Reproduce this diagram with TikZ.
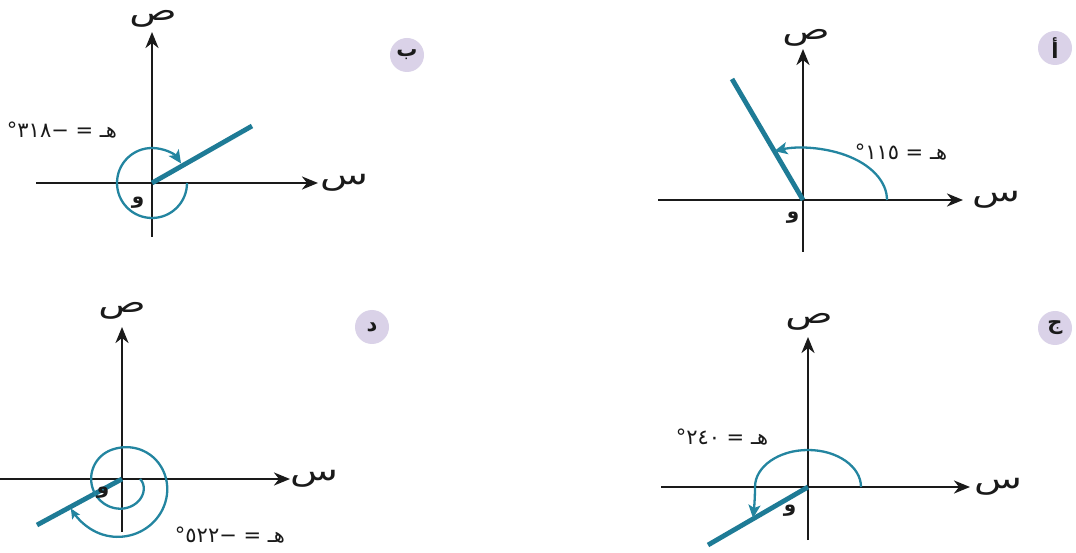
\documentclass[tikz,border=0pt]{standalone}
\usepackage{fontspec}
\usepackage{graphicx}
\newfontfamily\arabicfont[Script=Arabic]{DejaVu Sans}
\TeXXeTstate=1
\usetikzlibrary{arrows.meta}
\definecolor{tealline}{HTML}{1E7B96}
\definecolor{tealarc}{HTML}{2385A0}
\definecolor{badgefill}{HTML}{DAD2E8}
\definecolor{inkc}{HTML}{1A1A1A}
\tikzset{
  declare function={spt(\t)=min(max((\t-250)/230,0),1);
                    spr(\t)=31-13*exp(-\t/40)+28*(3*spt(\t)^2-2*spt(\t)^3);},
  axisline/.style={draw=inkc, line width=2.5pt, -{Stealth[length=16pt,width=13pt,inset=5pt]}},
  termline/.style={draw=tealline, line width=4.8pt},
  anglearc/.style={draw=tealarc, line width=2.3pt, -{Stealth[length=13pt,width=12pt,inset=3pt]}},
  thinarc/.style={draw=tealarc, line width=2.3pt, -{Stealth[length=10pt,width=9pt,inset=2pt]}},
  badge/.style={circle, fill=badgefill, minimum size=34pt, inner sep=0pt, text=inkc,
    font=\arabicfont\bfseries\fontsize{21}{23}\selectfont},
  anglelabel/.style={inner sep=0pt, text=inkc, font=\arabicfont\fontsize{21}{23}\selectfont},
  axislabel/.style={inner sep=0pt, text=inkc, font=\arabicfont\fontsize{28}{30}\selectfont},
  originlabel/.style={inner sep=0pt, text=inkc, font=\arabicfont\bfseries\fontsize{20}{22}\selectfont}
}
\newcommand{\wideglyph}[1]{\scalebox{1.4}[1]{#1}}
\begin{document}
\begin{tikzpicture}[x=1pt,y=1pt]
\useasboundingbox (0,0) rectangle (1076,552);
\fill[white] (0,0) rectangle (1076,552);

% ---------- Panel alef (top right) ----------
\begin{scope}[shift={(803,352)}]
  \coordinate (a-o) at (0,0);
  \coordinate (a-xl) at (-145,0);
  \coordinate (a-xr) at (160,0);
  \coordinate (a-yb) at (0,-52);
  \coordinate (a-yt) at (0,151);
  \coordinate (a-t) at (-71,121);
  \coordinate (a-as) at (84,0);
  \draw[axisline] (a-xl) -- (a-xr);
  \draw[axisline] (a-yb) -- (a-yt);
  \draw[termline] (a-o) -- (a-t);
  \draw[anglearc] (a-as) arc[start angle=0, end angle=110, x radius=84, y radius=52];
  \node[axislabel] (a-ly) at (3,162) {\wideglyph{ص}};
  \node[axislabel] (a-lx) at (193,0) {\wideglyph{س}};
  \node[originlabel] (a-lo) at (-10,-18) {و};
  \node[anglelabel] (a-lab) at (98,48) {\beginR هـ = ١١٥°\endR};
  \node[badge] (a-badge) at (252,152) {أ};
\end{scope}

% ---------- Panel beh (top left) ----------
\begin{scope}[shift={(152,369)}]
  \coordinate (b-o) at (0,0);
  \coordinate (b-xl) at (-116,0);
  \coordinate (b-xr) at (166,0);
  \coordinate (b-yb) at (0,-54);
  \coordinate (b-yt) at (0,151);
  \coordinate (b-t) at (100,57);
  \coordinate (b-as) at (35,0);
  \draw[axisline] (b-xl) -- (b-xr);
  \draw[axisline] (b-yb) -- (b-yt);
  \draw[termline] (b-o) -- (b-t);
  \draw[anglearc] (b-as) arc[start angle=0, end angle=-326, radius=35];
  \node[axislabel] (b-ly) at (1,164) {\wideglyph{ص}};
  \node[axislabel] (b-lx) at (192,0) {\wideglyph{س}};
  \node[originlabel] (b-lo) at (-14,-20) {و};
  \node[anglelabel] (b-lab) at (-90,53) {\beginR هـ = −٣١٨°\endR};
  \node[badge] (b-badge) at (255,128) {ب};
\end{scope}

% ---------- Panel jeem (bottom right) ----------
\begin{scope}[shift={(808,65)}]
  \coordinate (c-o) at (0,0);
  \coordinate (c-xl) at (-147,0);
  \coordinate (c-xr) at (162,0);
  \coordinate (c-yb) at (0,-53);
  \coordinate (c-yt) at (0,150);
  \coordinate (c-t) at (-100,-58);
  \coordinate (c-as) at (53,0);
  \coordinate (c-ae) at (-55,-31);
  \draw[axisline] (c-xl) -- (c-xr);
  \draw[axisline] (c-yb) -- (c-yt);
  \draw[termline] (c-o) -- (c-t);
  \draw[anglearc] (c-as) arc[start angle=0, end angle=180, x radius=53, y radius=37]
     .. controls (-53,-12) and (-54,-22) .. (c-ae);
  \node[axislabel] (c-ly) at (1,165) {\wideglyph{ص}};
  \node[axislabel] (c-lx) at (190,0) {\wideglyph{س}};
  \node[originlabel] (c-lo) at (-18,-24) {و};
  \node[anglelabel] (c-lab) at (-86,50) {\beginR هـ = ٢٤٠°\endR};
  \node[badge] (c-badge) at (247,159) {ج};
\end{scope}

% ---------- Panel dal (bottom left) ----------
\begin{scope}[shift={(122,73)}]
  \coordinate (d-o) at (0,0);
  \coordinate (d-xl) at (-122,0);
  \coordinate (d-xr) at (168,0);
  \coordinate (d-yb) at (0,-53);
  \coordinate (d-yt) at (0,152);
  \coordinate (d-t) at (-85,-46);
  \draw[axisline] (d-xl) -- (d-xr);
  \draw[axisline] (d-yb) -- (d-yt);
  \draw[termline] (d-o) -- (d-t);
  \draw[thinarc] plot[domain=0:510, samples=150, smooth] ({-\x}:{spr(\x)});
  \node[axislabel] (d-ly) at (0,168) {\wideglyph{ص}};
  \node[axislabel] (d-lx) at (192,0) {\wideglyph{س}};
  \node[originlabel] (d-lo) at (-19,-14) {و};
  \node[anglelabel] (d-lab) at (108,-56) {\beginR هـ = −٥٢٢°\endR};
  \node[badge] (d-badge) at (250,152) {د};
\end{scope}
\end{tikzpicture}
\end{document}
